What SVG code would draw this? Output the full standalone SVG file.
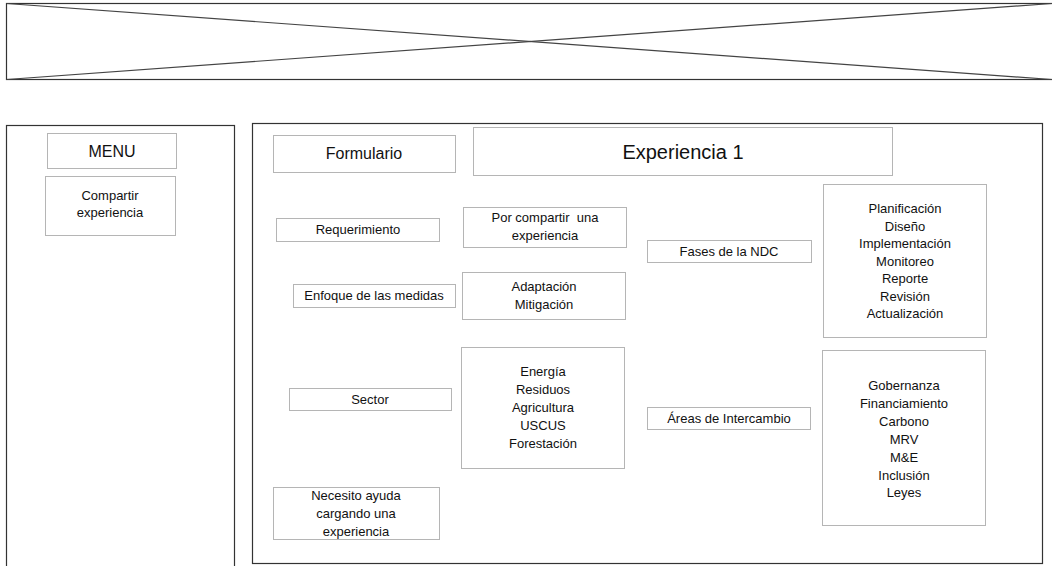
<svg xmlns="http://www.w3.org/2000/svg" width="1052" height="566" viewBox="0 0 1052 566">
<style>
  text { font-family: "Liberation Sans", Arial, sans-serif; font-size: 13px; fill: #111; text-anchor: middle; white-space: pre; }
  .panel { fill: #fff; stroke: #333; stroke-width: 1.2; }
  .box { fill: #fff; stroke: #b5b5b5; stroke-width: 1; }
  .xline { stroke: #444; stroke-width: 1.2; fill: none; }
  .big { font-size: 20px; }
  .mid { font-size: 16px; }
</style>
<rect width="1052" height="566" fill="#fff"/>
<g id="banner">
  <rect x="6.5" y="3.5" width="1050" height="76" class="panel"/>
  <line x1="6.5" y1="3.5" x2="1052" y2="79.5" class="xline"/>
  <line x1="6.5" y1="79.5" x2="1052" y2="3.5" class="xline"/>
</g>
<g id="menu-panel">
  <rect x="6.5" y="125.5" width="228" height="445" class="panel"/>
</g>
<g id="menu">
  <rect x="47.5" y="133.5" width="129" height="35" class="box"/>
  <text x="112" y="157" class="mid">MENU</text>
</g>
<g id="compartir">
  <rect x="45.5" y="176.5" width="130" height="59" class="box"/>
  <text x="110" y="200">Compartir</text>
  <text x="110" y="217">experiencia</text>
</g>
<g id="main-panel">
  <rect x="252.5" y="123.5" width="790" height="440" class="panel"/>
</g>
<g id="formulario">
  <rect x="273.5" y="135.5" width="182" height="37" class="box"/>
  <text x="364" y="159" class="mid">Formulario</text>
</g>
<g id="experiencia1">
  <rect x="473.5" y="127.5" width="419" height="48" class="box"/>
  <text x="683" y="159" class="big">Experiencia 1</text>
</g>
<g id="requerimiento">
  <rect x="276.5" y="218.5" width="163" height="23" class="box"/>
  <text x="358" y="234">Requerimiento</text>
</g>
<g id="por-compartir">
  <rect x="463.5" y="207.5" width="163" height="40" class="box"/>
  <text x="545" y="222">Por compartir  una</text>
  <text x="545" y="240">experiencia</text>
</g>
<g id="fases">
  <rect x="647.5" y="240.5" width="164" height="22" class="box"/>
  <text x="729" y="256">Fases de la NDC</text>
</g>
<g id="fases-lista">
  <rect x="823.5" y="184.5" width="163" height="153" class="box"/>
  <text x="905" y="213">Planificación</text>
  <text x="905" y="230.5">Diseño</text>
  <text x="905" y="248">Implementación</text>
  <text x="905" y="265.5">Monitoreo</text>
  <text x="905" y="283">Reporte</text>
  <text x="905" y="300.5">Revisión</text>
  <text x="905" y="318">Actualización</text>
</g>
<g id="enfoque">
  <rect x="293.5" y="284.5" width="162" height="23" class="box"/>
  <text x="374" y="300">Enfoque de las medidas</text>
</g>
<g id="enfoque-lista">
  <rect x="462.5" y="272.5" width="163" height="47" class="box"/>
  <text x="544" y="291">Adaptación</text>
  <text x="544" y="309">Mitigación</text>
</g>
<g id="sector">
  <rect x="289.5" y="388.5" width="162" height="22" class="box"/>
  <text x="370" y="404">Sector</text>
</g>
<g id="sector-lista">
  <rect x="461.5" y="347.5" width="163" height="121" class="box"/>
  <text x="543" y="376">Energía</text>
  <text x="543" y="394">Residuos</text>
  <text x="543" y="412">Agricultura</text>
  <text x="543" y="430">USCUS</text>
  <text x="543" y="448">Forestación</text>
</g>
<g id="areas">
  <rect x="647.5" y="407.5" width="163" height="22" class="box"/>
  <text x="729" y="423">Áreas de Intercambio</text>
</g>
<g id="areas-lista">
  <rect x="822.5" y="350.5" width="163" height="175" class="box"/>
  <text x="904" y="390">Gobernanza</text>
  <text x="904" y="408">Financiamiento</text>
  <text x="904" y="426">Carbono</text>
  <text x="904" y="444">MRV</text>
  <text x="904" y="462">M&amp;E</text>
  <text x="904" y="479.5">Inclusión</text>
  <text x="904" y="497">Leyes</text>
</g>
<g id="necesito">
  <rect x="273.5" y="487.5" width="166" height="52" class="box"/>
  <text x="356" y="500">Necesito ayuda</text>
  <text x="356" y="518">cargando una</text>
  <text x="356" y="536">experiencia</text>
</g>
<g id="connectors"></g>
</svg>
